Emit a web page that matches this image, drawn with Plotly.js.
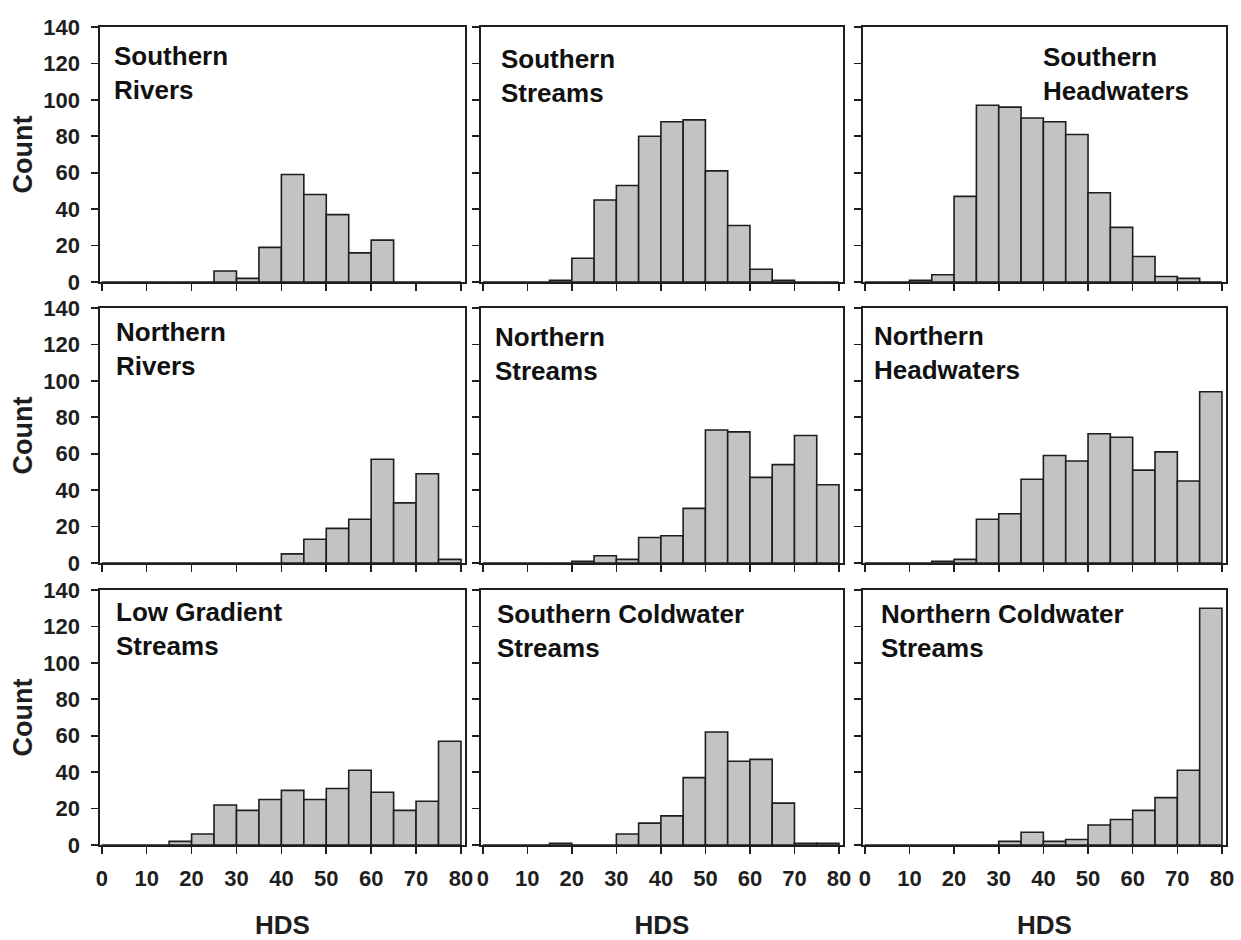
<!DOCTYPE html>
<html>
<head>
<meta charset="utf-8">
<script src="https://cdn.plot.ly/plotly-3.0.1.min.js"></script>
<style>html,body{margin:0;padding:0;background:#fff;}#chart{width:1241px;height:940px;}</style>
</head>
<body>
<div id="chart"></div>
<script>
// HDS bins (width 5), bin centres
const binCenters = [2.5, 7.5, 12.5, 17.5, 22.5, 27.5, 32.5, 37.5, 42.5, 47.5, 52.5, 57.5, 62.5, 67.5, 72.5, 77.5];
const xTickVals = [0, 10, 20, 30, 40, 50, 60, 70, 80];
const yTickVals = [0, 20, 40, 60, 80, 100, 120, 140];

const panelNames = [
  "Southern<br>Rivers", "Southern<br>Streams", "Southern<br>Headwaters",
  "Northern<br>Rivers", "Northern<br>Streams", "Northern<br>Headwaters",
  "Low Gradient<br>Streams", "Southern Coldwater<br>Streams", "Northern Coldwater<br>Streams"
];

const southernRivers      = [0, 0, 0, 0, 0, 6, 2, 19, 59, 48, 37, 16, 23, 0, 0, 0];
const southernStreams     = [0, 0, 0, 1, 13, 45, 53, 80, 88, 89, 61, 31, 7, 1, 0, 0];
const southernHeadwaters  = [0, 0, 1, 4, 47, 97, 96, 90, 88, 81, 49, 30, 14, 3, 2, 0];
const northernRivers      = [0, 0, 0, 0, 0, 0, 0, 0, 5, 13, 19, 24, 57, 33, 49, 2];
const northernStreams     = [0, 0, 0, 0, 1, 4, 2, 14, 15, 30, 73, 72, 47, 54, 70, 43];
const northernHeadwaters  = [0, 0, 0, 1, 2, 24, 27, 46, 59, 56, 71, 69, 51, 61, 45, 94];
const lowGradientStreams  = [0, 0, 0, 2, 6, 22, 19, 25, 30, 25, 31, 41, 29, 19, 24, 57];
const southernColdwater   = [0, 0, 0, 1, 0, 0, 6, 12, 16, 37, 62, 46, 47, 23, 1, 1];
const northernColdwater   = [0, 0, 0, 0, 0, 0, 2, 7, 2, 3, 11, 14, 19, 26, 41, 130];

const panelData = [southernRivers, southernStreams, southernHeadwaters,
                   northernRivers, northernStreams, northernHeadwaters,
                   lowGradientStreams, southernColdwater, northernColdwater];

const W = 1241, H = 940;
const colsPx = [[100, 465], [481, 843], [863, 1226]];
const rowsPx = [[27, 282], [308, 563], [590, 845]];
const labelPos = [[112, 39], [499, 42], [1041, 40], [114, 315], [493, 320], [872, 319], [114, 595], [495, 597], [879, 597]];

const FONT = "Liberation Sans, Arial, Helvetica, sans-serif";
const INK = "#1e1e1e";

const traces = [];
const layout = {
  width: W, height: H,
  margin: {l: 0, r: 0, t: 0, b: 0},
  paper_bgcolor: "#ffffff", plot_bgcolor: "#ffffff",
  showlegend: false,
  bargap: 0,
  font: {family: FONT, color: INK},
  annotations: []
};

for (let i = 0; i < 9; i++) {
  const r = Math.floor(i / 3), c = i % 3;
  const ax = i === 0 ? "" : String(i + 1);
  traces.push({
    type: "bar",
    x: binCenters,
    y: panelData[i],
    width: 5,
    xaxis: "x" + ax, yaxis: "y" + ax,
    marker: {color: "#c3c3c3", line: {color: INK, width: 1.6}},
    hoverinfo: "x+y"
  });
  const xa = {
    domain: [colsPx[c][0] / W, colsPx[c][1] / W],
    range: [-0.4, 80.9],
    tickvals: xTickVals,
    ticks: "outside", ticklen: 7, tickwidth: 1.6, tickcolor: INK,
    showline: true, linecolor: INK, linewidth: 1.6, mirror: true,
    showgrid: false, zeroline: false,
    showticklabels: r === 2,
    ticklabelstandoff: 6,
    tickfont: {family: FONT, size: 22, weight: "bold", color: INK},
    anchor: "y" + ax, fixedrange: true
  };
  if (r === 2) {
    xa.title = {text: "HDS", font: {family: FONT, size: 26, weight: "bold", color: INK}, standoff: 26};
  }
  const ya = {
    domain: [(H - rowsPx[r][1]) / H, (H - rowsPx[r][0]) / H],
    range: [0, 140],
    tickvals: yTickVals,
    ticks: "outside", ticklen: 7, tickwidth: 1.6, tickcolor: INK,
    showline: true, linecolor: INK, linewidth: 1.6, mirror: true,
    showgrid: false, zeroline: false,
    showticklabels: c === 0,
    ticklabelstandoff: 7,
    tickfont: {family: FONT, size: 22, weight: "bold", color: INK},
    anchor: "x" + ax, fixedrange: true
  };
  if (c === 0) {
    ya.title = {text: "Count", font: {family: FONT, size: 27, weight: "bold", color: INK}, standoff: 3};
  }
  layout["xaxis" + ax] = xa;
  layout["yaxis" + ax] = ya;
  layout.annotations.push({
    text: panelNames[i],
    xref: "paper", yref: "paper",
    x: labelPos[i][0] / W, y: 1 - labelPos[i][1] / H,
    xanchor: "left", yanchor: "top", align: "left",
    showarrow: false,
    font: {family: FONT, size: 26, weight: "bold", color: "#111"}
  });
}

Plotly.newPlot("chart", traces, layout, {displayModeBar: false, staticPlot: true});
</script>
</body>
</html>
